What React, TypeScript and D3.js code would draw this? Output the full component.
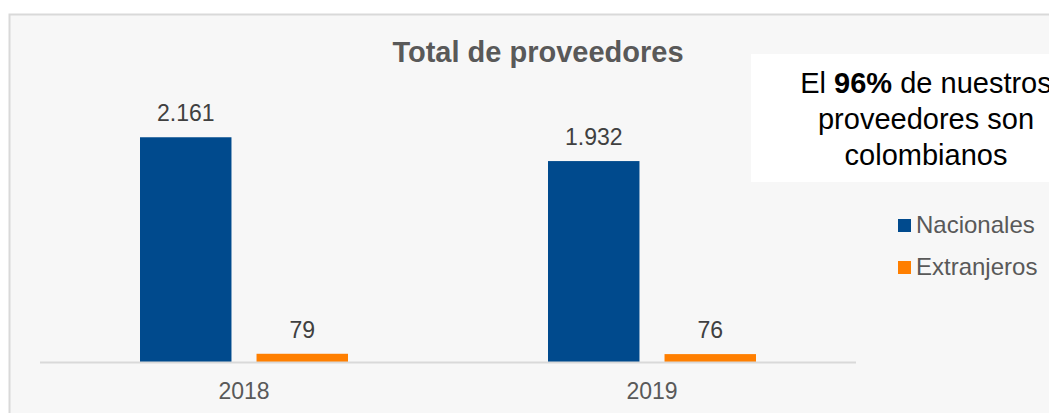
import React from "react";
import * as d3 from "d3";

const years = ["2018", "2019"];
const seriesNames = ["Nacionales", "Extranjeros"];
const nacionales = [2161, 1932];
const extranjeros = [79, 76];
const seriesColors = ["#004A8D", "#FF7F00"];
const annotationLines = ["proveedores son", "colombianos"];

const fmt = (v: number) => d3.format(",")(v).replace(/,/g, ".");

export default function App() {
  const W = 1049, H = 413;
  const x0 = d3.scaleBand().domain(years).range([40, 856]).paddingInner(0).paddingOuter(0);
  const x1 = d3.scaleBand().domain(seriesNames).range([100, 308]).paddingInner(0.215).paddingOuter(0);
  const y = d3.scaleLinear().domain([0, 2500]).range([362, 102]);
  const seriesValues = [nacionales, extranjeros];
  const font = "Arial, 'Liberation Sans', sans-serif";

  return (
    <svg width={W} height={H} style={{ position: "absolute", left: 0, top: 0, fontFamily: font }}>
      <rect x={0} y={0} width={W} height={H} fill="#ffffff" />
      <rect x={9.5} y={14.5} width={W + 10} height={H + 10} fill="#f7f7f7" stroke="#d9d9d9" strokeWidth={2} />
      <text x={538} y={62} textAnchor="middle" fontSize={29} fontWeight="bold" fill="#595959">
        Total de proveedores
      </text>
      {years.map((yr, i) => (
        <g key={yr}>
          {seriesNames.map((s, j) => {
            const v = seriesValues[j][i];
            const bx = (x0(yr) as number) + (x1(s) as number);
            const bw = x1.bandwidth();
            return (
              <g key={s}>
                <rect x={bx} y={y(v)} width={bw} height={y(0) - y(v)} fill={seriesColors[j]} />
                <text x={bx + bw / 2} y={y(v) - 16} textAnchor="middle" fontSize={23} fill="#404040">
                  {fmt(v)}
                </text>
              </g>
            );
          })}
          <text x={(x0(yr) as number) + x0.bandwidth() / 2} y={399} textAnchor="middle" fontSize={23} fill="#595959">
            {yr}
          </text>
        </g>
      ))}
      <line x1={40} x2={856} y1={362.5} y2={362.5} stroke="#d9d9d9" strokeWidth={2} />
      <rect x={751} y={54} width={W - 751} height={128} fill="#ffffff" />
      <text x={926} y={93} textAnchor="middle" fontSize={29} fill="#000000">
        El <tspan fontWeight="bold">96%</tspan> de nuestros
      </text>
      {annotationLines.map((l, i) => (
        <text key={l} x={926} y={129 + i * 36} textAnchor="middle" fontSize={29} fill="#000000">
          {l}
        </text>
      ))}
      {seriesNames.map((s, j) => (
        <g key={s}>
          <rect x={898} y={219 + j * 42} width={13} height={13} fill={seriesColors[j]} />
          <text x={916} y={233 + j * 42} fontSize={24} fill="#595959">
            {s}
          </text>
        </g>
      ))}
    </svg>
  );
}
